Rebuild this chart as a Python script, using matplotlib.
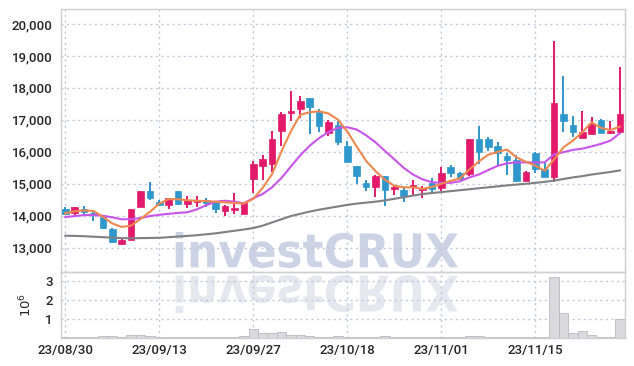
import matplotlib
matplotlib.use("Agg")
import numpy as np
import matplotlib.pyplot as plt
from matplotlib.ticker import FuncFormatter, FixedLocator
from matplotlib.textpath import TextPath
from matplotlib.patches import PathPatch
from matplotlib.path import Path
from matplotlib.font_manager import FontProperties

# trading days (KRX), 23/08/30 .. 23/11/28
dates = ["2023-08-30", "2023-08-31", "2023-09-01", "2023-09-04", "2023-09-05",
         "2023-09-06", "2023-09-07", "2023-09-08", "2023-09-11", "2023-09-12",
         "2023-09-13", "2023-09-14", "2023-09-15", "2023-09-18", "2023-09-19",
         "2023-09-20", "2023-09-21", "2023-09-22", "2023-09-25", "2023-09-26",
         "2023-09-27", "2023-10-04", "2023-10-05", "2023-10-06", "2023-10-10",
         "2023-10-11", "2023-10-12", "2023-10-13", "2023-10-16", "2023-10-17",
         "2023-10-18", "2023-10-19", "2023-10-20", "2023-10-23", "2023-10-24",
         "2023-10-25", "2023-10-26", "2023-10-27", "2023-10-30", "2023-10-31",
         "2023-11-01", "2023-11-02", "2023-11-03", "2023-11-06", "2023-11-07",
         "2023-11-08", "2023-11-09", "2023-11-10", "2023-11-13", "2023-11-14",
         "2023-11-15", "2023-11-16", "2023-11-17", "2023-11-20", "2023-11-21",
         "2023-11-22", "2023-11-23", "2023-11-24", "2023-11-27", "2023-11-28"]

opens = [14200, 14090, 14220, 14100, 13950, 13600, 13120, 13240, 14280, 14790,
         14420, 14350, 14760, 14375, 14440, 14500, 14430, 14150, 14190, 14050,
         15150, 15570, 15630, 16660, 17220, 17350, 17690, 17240, 16590, 16830,
         16170, 15550, 15010, 14910, 15240, 14840, 14800, 14900, 14820, 15030,
         14870, 15520, 15340, 15310, 16400, 16400, 16180, 15860, 15760, 15100,
         15960, 15450, 15220, 17170, 16840, 16420, 16560, 17000, 16580, 16610]
highs = [14280, 14270, 14310, 14120, 13960, 13620, 13300, 14210, 14780, 15050,
         14500, 14560, 14770, 14620, 14610, 14560, 14440, 14330, 14710, 14440,
         15700, 15910, 16660, 17250, 17900, 17760, 17700, 17350, 17010, 16950,
         16350, 15560, 15130, 15260, 15250, 14930, 14870, 15120, 14920, 15190,
         15530, 15580, 15380, 16410, 16820, 16480, 16320, 15950, 15900, 15390,
         15980, 15660, 19480, 18370, 17130, 17270, 17080, 17030, 16960, 18660]
lows = [14050, 14030, 14060, 13840, 13600, 13140, 13100, 13230, 14270, 14490,
        14300, 14210, 14340, 14230, 14260, 14260, 14100, 13980, 14050, 14040,
        14710, 15110, 15370, 16170, 16980, 17060, 16570, 16620, 16490, 16200,
        15680, 15000, 14780, 14590, 14320, 14660, 14440, 14630, 14570, 14680,
        14790, 15210, 15150, 15240, 15630, 16030, 15600, 15260, 15070, 15090,
        15350, 15220, 15060, 16630, 16450, 16420, 16540, 16580, 16570, 16600]
closes = [14070, 14260, 14110, 14030, 13610, 13180, 13240, 14200, 14760, 14570,
          14330, 14550, 14360, 14480, 14500, 14400, 14210, 14320, 14240, 14430,
          15630, 15790, 16410, 17190, 17270, 17580, 17390, 16820, 16920, 16310,
          15680, 15230, 14890, 15250, 14800, 14900, 14620, 14970, 14870, 14850,
          15330, 15340, 15150, 16400, 16000, 16160, 15950, 15760, 15080, 15380,
          15470, 15220, 17530, 16960, 16610, 16630, 16870, 16590, 16640, 17190]

ma5 = [14080, 14140, 14165, 14150, 13970, 13760, 13650, 13690, 13900, 14120,
       14380, 14520, 14515, 14485, 14470, 14460, 14440, 14420, 14400, 14380,
       14530, 14870, 15300, 16010, 16640, 17160, 17240, 17270, 17200, 17010,
       16640, 16170, 15720, 15400, 15130, 14940, 14890, 14890, 14840, 14900,
       15000, 15090, 15170, 15450, 15700, 15910, 16000, 16070, 15830, 15690,
       15570, 15410, 15760, 16140, 16350, 16610, 16920, 16750, 16680, 16790]
ma20 = [13960, 13990, 14020, 14020, 14000, 13950, 13890, 13890, 13930, 13990,
        14030, 14060, 14090, 14110, 14200, 14330, 14440, 14470, 14440, 14390,
        14550, 14680, 14890, 15180, 15540, 15890, 16190, 16430, 16620, 16750,
        16770, 16700, 16520, 16300, 16030, 15770, 15500, 15290, 15140, 15050,
        15030, 15030, 15080, 15200, 15290, 15430, 15560, 15640, 15670, 15670,
        15670, 15670, 15920, 15990, 16060, 16100, 16170, 16250, 16350, 16580]
ma120 = [13375, 13370, 13360, 13345, 13330, 13315, 13300, 13295, 13300, 13305,
         13310, 13330, 13350, 13370, 13390, 13420, 13450, 13490, 13530, 13570,
         13615, 13690, 13790, 13890, 13990, 14060, 14130, 14190, 14240, 14290,
         14340, 14380, 14410, 14440, 14480, 14530, 14580, 14630, 14680, 14710,
         14740, 14770, 14800, 14830, 14860, 14890, 14920, 14950, 14975, 15000,
         15030, 15060, 15100, 15150, 15200, 15240, 15290, 15330, 15370, 15420]

# volume in millions of shares
volume = [0.03, 0.03, 0.02, 0.05, 0.10, 0.10, 0.04, 0.15, 0.15, 0.10,
          0.05, 0.04, 0.05, 0.03, 0.02, 0.05, 0.03, 0.02, 0.05, 0.06,
          0.45, 0.22, 0.22, 0.28, 0.12, 0.15, 0.10, 0.05, 0.05, 0.10,
          0.05, 0.04, 0.03, 0.04, 0.08, 0.04, 0.03, 0.03, 0.03, 0.05,
          0.04, 0.05, 0.05, 0.10, 0.06, 0.05, 0.04, 0.04, 0.03, 0.05,
          0.04, 0.05, 3.17, 1.31, 0.22, 0.35, 0.13, 0.04, 0.04, 0.99]

UP = '#e31a6b'
DOWN = '#2e97cc'
GRID = '#c4c7da'
TXT = '#262626'

plt.rcParams['font.family'] = ['Roboto', 'DejaVu Sans']
plt.rcParams['font.weight'] = 'medium'

fig = plt.figure(figsize=(6.34, 3.66), dpi=100)
W, H = 634.0, 366.0


def watermark(text, box, color, flip=False, mirror=272.5):
    tp = TextPath((0, 0), text, size=100, prop=FontProperties(family='DejaVu Sans', weight='bold'))
    v = tp.vertices.copy()
    x0, y0 = v.min(axis=0)
    x1, y1 = v.max(axis=0)
    l, t, r, b = box
    px = l + (v[:, 0] - x0) / (x1 - x0) * (r - l)
    py = t + (y1 - v[:, 1]) / (y1 - y0) * (b - t)
    if flip:
        py = 2 * mirror - py
    verts = np.column_stack([px / W, 1 - py / H])
    patch = PathPatch(Path(verts, tp.codes), facecolor=color, edgecolor='none',
                      transform=fig.transFigure, zorder=-5)
    fig.add_artist(patch)


watermark("investCRUX", (172, 232, 458, 268), '#ccd3e5')
watermark("investCRUX", (172, 232, 458, 270), '#e6e7ef', flip=True)

ax = fig.add_axes([61 / W, 1 - 272 / H, 564 / W, 263 / H])
axv = fig.add_axes([61 / W, 1 - 337.5 / H, 564 / W, 65.5 / H], sharex=ax)
for a in (ax, axv):
    a.set_facecolor('none')
    for s in a.spines.values():
        s.set_color('#cfcfd4')
        s.set_linewidth(1.0)
    a.grid(True, color=GRID, linestyle=(0, (1.5, 2.5)), linewidth=1.0)
    a.set_axisbelow(True)
    a.tick_params(length=0, labelsize=9.5, colors=TXT)

x = np.arange(len(dates))
o = np.array(opens)
c = np.array(closes)
up = c >= o
cols = np.where(up, UP, DOWN)

ax.vlines(x, lows, highs, colors=cols, linewidth=1.4, zorder=2)
ax.bar(x, np.maximum(np.abs(c - o), 40), bottom=np.minimum(o, c), width=0.7,
       color=cols, edgecolor=cols, linewidth=0.5, zorder=3)

ax.plot(x, ma120, color='#7f7f84', linewidth=1.5, zorder=4)
ax.plot(x, ma20, color='#c954ea', linewidth=1.5, zorder=4)
ax.plot(x, ma5, color='#f0884e', linewidth=1.5, zorder=4)

ax.set_ylim(12240, 20470)
ax.yaxis.set_major_locator(FixedLocator(np.arange(13000, 20001, 1000)))
ax.yaxis.set_major_formatter(FuncFormatter(lambda v, p: f"{v:,.0f}"))
ax.tick_params(axis='x', labelbottom=False)
ax.tick_params(axis='y', pad=6)

axv.bar(x, volume, width=1.0, color='#d9d9de', edgecolor='#b9b9c2', linewidth=0.6, zorder=2)
axv.set_ylim(0, 3.45)
axv.set_yticks([1, 2, 3])
axv.set_ylabel('$10^6$', fontsize=9.5, color=TXT, labelpad=8)
axv.tick_params(axis='y', pad=6)

ticks = list(range(0, len(dates), 10))
axv.set_xticks(ticks)
axv.set_xticklabels([dates[i][2:].replace('-', '/') for i in ticks])
axv.tick_params(axis='x', pad=5)
ax.set_xlim(-0.45, 59.55)

fig.savefig('out.png', dpi=100)
